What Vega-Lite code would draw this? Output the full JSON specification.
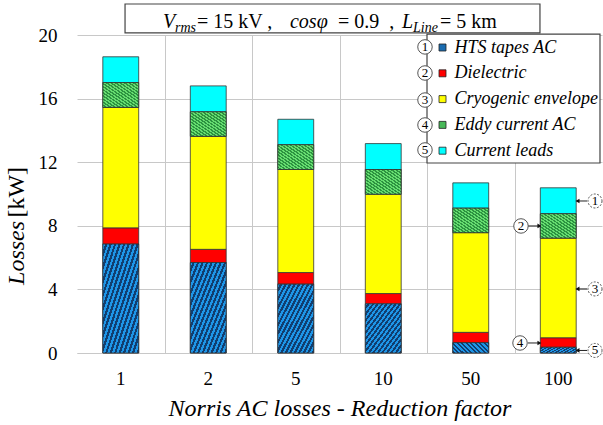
{
  "$schema": "https://vega.github.io/schema/vega-lite/v6.json",
  "width": 525,
  "height": 318,
  "autosize": "none",
  "padding": {"left": 77, "top": 35, "right": 1, "bottom": 72},
  "config": {"view": {"stroke": null}, "font": "Liberation Serif", "background": "white"},
  "datasets": {
    "losses": [
      {"factor": "1", "component": "HTS tapes AC", "loss": 6.85},
      {"factor": "1", "component": "Dielectric", "loss": 1.02},
      {"factor": "1", "component": "Cryogenic envelope", "loss": 7.58},
      {"factor": "1", "component": "Eddy current AC", "loss": 1.56},
      {"factor": "1", "component": "Current leads", "loss": 1.62},
      {"factor": "2", "component": "HTS tapes AC", "loss": 5.69},
      {"factor": "2", "component": "Dielectric", "loss": 0.83},
      {"factor": "2", "component": "Cryogenic envelope", "loss": 7.11},
      {"factor": "2", "component": "Eddy current AC", "loss": 1.54},
      {"factor": "2", "component": "Current leads", "loss": 1.63},
      {"factor": "5", "component": "HTS tapes AC", "loss": 4.33},
      {"factor": "5", "component": "Dielectric", "loss": 0.73},
      {"factor": "5", "component": "Cryogenic envelope", "loss": 6.48},
      {"factor": "5", "component": "Eddy current AC", "loss": 1.56},
      {"factor": "5", "component": "Current leads", "loss": 1.6},
      {"factor": "10", "component": "HTS tapes AC", "loss": 3.09},
      {"factor": "10", "component": "Dielectric", "loss": 0.65},
      {"factor": "10", "component": "Cryogenic envelope", "loss": 6.25},
      {"factor": "10", "component": "Eddy current AC", "loss": 1.55},
      {"factor": "10", "component": "Current leads", "loss": 1.63},
      {"factor": "50", "component": "HTS tapes AC", "loss": 0.65},
      {"factor": "50", "component": "Dielectric", "loss": 0.65},
      {"factor": "50", "component": "Cryogenic envelope", "loss": 6.27},
      {"factor": "50", "component": "Eddy current AC", "loss": 1.54},
      {"factor": "50", "component": "Current leads", "loss": 1.59},
      {"factor": "100", "component": "HTS tapes AC", "loss": 0.36},
      {"factor": "100", "component": "Dielectric", "loss": 0.6},
      {"factor": "100", "component": "Cryogenic envelope", "loss": 6.27},
      {"factor": "100", "component": "Eddy current AC", "loss": 1.53},
      {"factor": "100", "component": "Current leads", "loss": 1.63}
    ],
    "boxes": [
      {"u": 0.549, "u2": 5.291, "v": 21.95, "v2": 20.13},
      {"u": 4.0, "u2": 5.977, "v": 20.06, "v2": 11.95}
    ],
    "titleItalic": [
      {"u": 0.983, "v": 20.44, "t": "V"},
      {"u": 2.434, "v": 20.44, "t": "cosφ"},
      {"u": 3.714, "v": 20.44, "t": "L"}
    ],
    "titleNormal": [
      {"u": 1.371, "v": 20.44, "t": "= 15 kV ,"},
      {"u": 2.983, "v": 20.44, "t": "= 0.9\u00a0\u00a0,"},
      {"u": 4.149, "v": 20.44, "t": "= 5 km"}
    ],
    "titleSub": [
      {"u": 1.12, "v": 20.19, "t": "rms"},
      {"u": 3.84, "v": 20.19, "t": "Line"}
    ],
    "arrows": [
      {"u": 5.829, "u2": 5.72, "v": 9.56, "dir": "left"},
      {"u": 5.829, "u2": 5.72, "v": 4.03, "dir": "left"},
      {"u": 5.829, "u2": 5.72, "v": 0.16, "dir": "left"},
      {"u": 5.154, "u2": 5.285, "v": 7.99, "dir": "right"},
      {"u": 5.154, "u2": 5.285, "v": 0.63, "dir": "right"}
    ],
    "callouts": [
      {"u": 3.977, "v": 19.25, "n": "1", "side": "legend"},
      {"u": 3.977, "v": 17.61, "n": "2", "side": "legend"},
      {"u": 3.977, "v": 15.91, "n": "3", "side": "legend"},
      {"u": 3.977, "v": 14.34, "n": "4", "side": "legend"},
      {"u": 3.977, "v": 12.77, "n": "5", "side": "legend"},
      {"u": 5.92, "v": 9.56, "n": "1", "side": "right"},
      {"u": 5.074, "v": 7.99, "n": "2", "side": "left"},
      {"u": 5.92, "v": 4.03, "n": "3", "side": "right"},
      {"u": 5.063, "v": 0.63, "n": "4", "side": "left"},
      {"u": 5.92, "v": 0.16, "n": "5", "side": "right"}
    ]
  },
  "layer": [
    {
      "data": {"name": "losses"},
      "transform": [
        {"calculate": "indexof(['HTS tapes AC','Dielectric','Cryogenic envelope','Eddy current AC','Current leads'], datum.component)", "as": "rank"},
        {"stack": "loss", "groupby": ["factor"], "sort": [{"field": "rank", "order": "ascending"}], "as": ["y0", "y1"], "offset": "zero"}
      ],
      "encoding": {
        "x": {
          "field": "factor", "type": "nominal",
          "sort": ["1", "2", "5", "10", "50", "100"],
          "scale": {"paddingInner": 0, "paddingOuter": 0},
          "axis": {
            "grid": false, "domain": true, "domainColor": "#c8c8c8", "ticks": false,
            "labelPadding": 16, "labelFont": "Liberation Serif", "labelFontSize": 19,
            "labelColor": "black", "labelAngle": 0,
            "title": "Norris AC losses - Reduction factor",
            "titleFont": "Liberation Serif", "titleFontStyle": "italic", "titleFontWeight": "normal",
            "titleFontSize": 24, "titleColor": "black", "titlePadding": 8
          }
        },
        "y": {
          "field": "y0", "type": "quantitative",
          "scale": {"domain": [0, 20], "nice": false},
          "axis": {
            "values": [0, 4, 8, 12, 16, 20], "grid": true, "gridColor": "#c8c8c8",
            "domain": false, "ticks": false, "labelPadding": 20,
            "labelFont": "Liberation Serif", "labelFontSize": 19, "labelColor": "black",
            "title": null
          }
        },
        "y2": {"field": "y1"}
      },
      "layer": [
        {
          "mark": {"type": "bar", "width": {"band": 0.41}, "stroke": "#333333", "strokeWidth": 0.8},
          "encoding": {
            "color": {
              "field": "component", "type": "nominal",
              "sort": ["HTS tapes AC", "Dielectric", "Cryogenic envelope", "Eddy current AC", "Current leads"],
              "scale": {
                "domain": ["HTS tapes AC", "Dielectric", "Cryogenic envelope", "Eddy current AC", "Current leads"],
                "range": ["#1a6cb0", "#ff0000", "#ffff00", "#48b858", "#00ffff"]
              },
              "legend": {
                "orient": "none", "legendX": 350, "legendY": -2.5, "title": null,
                "symbolType": "square", "symbolSize": 49, "symbolStrokeColor": "#222222", "symbolStrokeWidth": 0.8,
                "labelFont": "Liberation Serif", "labelFontStyle": "italic", "labelFontSize": 18,
                "labelColor": "black", "labelLimit": 300,
                "padding": 6, "rowPadding": 7.8, "symbolOffset": 0.5, "labelOffset": 3
              }
            }
          }
        },
        {
          "transform": [{"filter": "datum.component == 'HTS tapes AC'"}],
          "mark": {
            "type": "bar", "width": {"band": 0.41}, "stroke": "#333333", "strokeWidth": 0.8,
            "fill": {"gradient": "linear", "x1": 0, "y1": 0, "x2": 1, "y2": 1, "stops": [
              {"offset": 0, "color": "#1e96e8"}, {"offset": 0.03125, "color": "#1e96e8"}, {"offset": 0.03125, "color": "#113e70"}, {"offset": 0.0625, "color": "#113e70"},
              {"offset": 0.0625, "color": "#1e96e8"}, {"offset": 0.09375, "color": "#1e96e8"}, {"offset": 0.09375, "color": "#113e70"}, {"offset": 0.125, "color": "#113e70"},
              {"offset": 0.125, "color": "#1e96e8"}, {"offset": 0.15625, "color": "#1e96e8"}, {"offset": 0.15625, "color": "#113e70"}, {"offset": 0.1875, "color": "#113e70"},
              {"offset": 0.1875, "color": "#1e96e8"}, {"offset": 0.21875, "color": "#1e96e8"}, {"offset": 0.21875, "color": "#113e70"}, {"offset": 0.25, "color": "#113e70"},
              {"offset": 0.25, "color": "#1e96e8"}, {"offset": 0.28125, "color": "#1e96e8"}, {"offset": 0.28125, "color": "#113e70"}, {"offset": 0.3125, "color": "#113e70"},
              {"offset": 0.3125, "color": "#1e96e8"}, {"offset": 0.34375, "color": "#1e96e8"}, {"offset": 0.34375, "color": "#113e70"}, {"offset": 0.375, "color": "#113e70"},
              {"offset": 0.375, "color": "#1e96e8"}, {"offset": 0.40625, "color": "#1e96e8"}, {"offset": 0.40625, "color": "#113e70"}, {"offset": 0.4375, "color": "#113e70"},
              {"offset": 0.4375, "color": "#1e96e8"}, {"offset": 0.46875, "color": "#1e96e8"}, {"offset": 0.46875, "color": "#113e70"}, {"offset": 0.5, "color": "#113e70"},
              {"offset": 0.5, "color": "#1e96e8"}, {"offset": 0.53125, "color": "#1e96e8"}, {"offset": 0.53125, "color": "#113e70"}, {"offset": 0.5625, "color": "#113e70"},
              {"offset": 0.5625, "color": "#1e96e8"}, {"offset": 0.59375, "color": "#1e96e8"}, {"offset": 0.59375, "color": "#113e70"}, {"offset": 0.625, "color": "#113e70"},
              {"offset": 0.625, "color": "#1e96e8"}, {"offset": 0.65625, "color": "#1e96e8"}, {"offset": 0.65625, "color": "#113e70"}, {"offset": 0.6875, "color": "#113e70"},
              {"offset": 0.6875, "color": "#1e96e8"}, {"offset": 0.71875, "color": "#1e96e8"}, {"offset": 0.71875, "color": "#113e70"}, {"offset": 0.75, "color": "#113e70"},
              {"offset": 0.75, "color": "#1e96e8"}, {"offset": 0.78125, "color": "#1e96e8"}, {"offset": 0.78125, "color": "#113e70"}, {"offset": 0.8125, "color": "#113e70"},
              {"offset": 0.8125, "color": "#1e96e8"}, {"offset": 0.84375, "color": "#1e96e8"}, {"offset": 0.84375, "color": "#113e70"}, {"offset": 0.875, "color": "#113e70"},
              {"offset": 0.875, "color": "#1e96e8"}, {"offset": 0.90625, "color": "#1e96e8"}, {"offset": 0.90625, "color": "#113e70"}, {"offset": 0.9375, "color": "#113e70"},
              {"offset": 0.9375, "color": "#1e96e8"}, {"offset": 0.96875, "color": "#1e96e8"}, {"offset": 0.96875, "color": "#113e70"}, {"offset": 1, "color": "#113e70"}
            ]}
          }
        },
        {
          "transform": [{"filter": "datum.component == 'Eddy current AC'"}],
          "mark": {
            "type": "bar", "width": {"band": 0.41}, "stroke": "#333333", "strokeWidth": 0.8,
            "fill": {"gradient": "linear", "x1": 0, "y1": 1, "x2": 1, "y2": 0, "stops": [
              {"offset": 0, "color": "#66dd70"}, {"offset": 0.03125, "color": "#66dd70"}, {"offset": 0.03125, "color": "#2c9240"}, {"offset": 0.0625, "color": "#2c9240"},
              {"offset": 0.0625, "color": "#66dd70"}, {"offset": 0.09375, "color": "#66dd70"}, {"offset": 0.09375, "color": "#2c9240"}, {"offset": 0.125, "color": "#2c9240"},
              {"offset": 0.125, "color": "#66dd70"}, {"offset": 0.15625, "color": "#66dd70"}, {"offset": 0.15625, "color": "#2c9240"}, {"offset": 0.1875, "color": "#2c9240"},
              {"offset": 0.1875, "color": "#66dd70"}, {"offset": 0.21875, "color": "#66dd70"}, {"offset": 0.21875, "color": "#2c9240"}, {"offset": 0.25, "color": "#2c9240"},
              {"offset": 0.25, "color": "#66dd70"}, {"offset": 0.28125, "color": "#66dd70"}, {"offset": 0.28125, "color": "#2c9240"}, {"offset": 0.3125, "color": "#2c9240"},
              {"offset": 0.3125, "color": "#66dd70"}, {"offset": 0.34375, "color": "#66dd70"}, {"offset": 0.34375, "color": "#2c9240"}, {"offset": 0.375, "color": "#2c9240"},
              {"offset": 0.375, "color": "#66dd70"}, {"offset": 0.40625, "color": "#66dd70"}, {"offset": 0.40625, "color": "#2c9240"}, {"offset": 0.4375, "color": "#2c9240"},
              {"offset": 0.4375, "color": "#66dd70"}, {"offset": 0.46875, "color": "#66dd70"}, {"offset": 0.46875, "color": "#2c9240"}, {"offset": 0.5, "color": "#2c9240"},
              {"offset": 0.5, "color": "#66dd70"}, {"offset": 0.53125, "color": "#66dd70"}, {"offset": 0.53125, "color": "#2c9240"}, {"offset": 0.5625, "color": "#2c9240"},
              {"offset": 0.5625, "color": "#66dd70"}, {"offset": 0.59375, "color": "#66dd70"}, {"offset": 0.59375, "color": "#2c9240"}, {"offset": 0.625, "color": "#2c9240"},
              {"offset": 0.625, "color": "#66dd70"}, {"offset": 0.65625, "color": "#66dd70"}, {"offset": 0.65625, "color": "#2c9240"}, {"offset": 0.6875, "color": "#2c9240"},
              {"offset": 0.6875, "color": "#66dd70"}, {"offset": 0.71875, "color": "#66dd70"}, {"offset": 0.71875, "color": "#2c9240"}, {"offset": 0.75, "color": "#2c9240"},
              {"offset": 0.75, "color": "#66dd70"}, {"offset": 0.78125, "color": "#66dd70"}, {"offset": 0.78125, "color": "#2c9240"}, {"offset": 0.8125, "color": "#2c9240"},
              {"offset": 0.8125, "color": "#66dd70"}, {"offset": 0.84375, "color": "#66dd70"}, {"offset": 0.84375, "color": "#2c9240"}, {"offset": 0.875, "color": "#2c9240"},
              {"offset": 0.875, "color": "#66dd70"}, {"offset": 0.90625, "color": "#66dd70"}, {"offset": 0.90625, "color": "#2c9240"}, {"offset": 0.9375, "color": "#2c9240"},
              {"offset": 0.9375, "color": "#66dd70"}, {"offset": 0.96875, "color": "#66dd70"}, {"offset": 0.96875, "color": "#2c9240"}, {"offset": 1, "color": "#2c9240"}
            ]}
          }
        }
      ]
    },
    {
      "layer": [
        {
          "data": {"name": "boxes"},
          "mark": {"type": "rect", "fill": "white", "stroke": "#444444", "strokeWidth": 1.2},
          "encoding": {
            "x": {
              "field": "u", "type": "quantitative",
              "scale": {"domain": [0, 6], "nice": false, "zero": false},
              "axis": {
                "values": [1, 2, 3, 4, 5], "grid": true, "gridColor": "#c8c8c8",
                "labels": false, "ticks": false, "domain": false, "title": null
              }
            },
            "x2": {"field": "u2"},
            "y": {"field": "v", "type": "quantitative", "scale": {"domain": [0, 20], "nice": false}},
            "y2": {"field": "v2"}
          }
        },
        {
          "data": {"name": "titleItalic"},
          "mark": {"type": "text", "align": "left", "baseline": "alphabetic", "font": "Liberation Serif", "fontStyle": "italic", "fontSize": 20, "color": "black"},
          "encoding": {
            "x": {"field": "u", "type": "quantitative"},
            "y": {"field": "v", "type": "quantitative"},
            "text": {"field": "t"}
          }
        },
        {
          "data": {"name": "titleNormal"},
          "mark": {"type": "text", "align": "left", "baseline": "alphabetic", "font": "Liberation Serif", "fontSize": 20, "color": "black"},
          "encoding": {
            "x": {"field": "u", "type": "quantitative"},
            "y": {"field": "v", "type": "quantitative"},
            "text": {"field": "t"}
          }
        },
        {
          "data": {"name": "titleSub"},
          "mark": {"type": "text", "align": "left", "baseline": "alphabetic", "font": "Liberation Serif", "fontStyle": "italic", "fontSize": 14, "color": "black"},
          "encoding": {
            "x": {"field": "u", "type": "quantitative"},
            "y": {"field": "v", "type": "quantitative"},
            "text": {"field": "t"}
          }
        },
        {
          "data": {"values": [{"u": -0.686, "v": 4.28, "t": "Losses"}]},
          "mark": {"type": "text", "align": "left", "baseline": "middle", "angle": 270, "font": "Liberation Serif", "fontStyle": "italic", "fontSize": 24, "color": "black"},
          "encoding": {
            "x": {"field": "u", "type": "quantitative"},
            "y": {"field": "v", "type": "quantitative"},
            "text": {"field": "t"}
          }
        },
        {
          "data": {"values": [{"u": -0.686, "v": 11.7, "t": "[kW]"}]},
          "mark": {"type": "text", "align": "right", "baseline": "middle", "angle": 270, "font": "Liberation Serif", "fontSize": 24, "color": "black"},
          "encoding": {
            "x": {"field": "u", "type": "quantitative"},
            "y": {"field": "v", "type": "quantitative"},
            "text": {"field": "t"}
          }
        },
        {
          "data": {"name": "arrows"},
          "mark": {"type": "rule", "color": "#222222", "strokeWidth": 1},
          "encoding": {
            "x": {"field": "u", "type": "quantitative"},
            "x2": {"field": "u2"},
            "y": {"field": "v", "type": "quantitative"}
          }
        },
        {
          "data": {"name": "arrows"},
          "transform": [{"filter": "datum.dir == 'left'"}],
          "mark": {"type": "point", "shape": "triangle-left", "filled": true, "color": "#111111", "size": 22, "opacity": 1},
          "encoding": {
            "x": {"field": "u2", "type": "quantitative"},
            "y": {"field": "v", "type": "quantitative"}
          }
        },
        {
          "data": {"name": "arrows"},
          "transform": [{"filter": "datum.dir == 'right'"}],
          "mark": {"type": "point", "shape": "triangle-right", "filled": true, "color": "#111111", "size": 22, "opacity": 1},
          "encoding": {
            "x": {"field": "u2", "type": "quantitative"},
            "y": {"field": "v", "type": "quantitative"}
          }
        },
        {
          "data": {"name": "callouts"},
          "transform": [{"filter": "datum.side != 'right'"}],
          "mark": {"type": "point", "shape": "circle", "filled": false, "fill": "white", "fillOpacity": 1, "stroke": "#555555", "strokeWidth": 1, "size": 210, "opacity": 1},
          "encoding": {
            "x": {"field": "u", "type": "quantitative"},
            "y": {"field": "v", "type": "quantitative"}
          }
        },
        {
          "data": {"name": "callouts"},
          "transform": [{"filter": "datum.side == 'right'"}],
          "mark": {"type": "point", "shape": "circle", "filled": false, "fill": "white", "fillOpacity": 1, "stroke": "#555555", "strokeWidth": 1, "strokeDash": [2, 1.5], "size": 196, "opacity": 1},
          "encoding": {
            "x": {"field": "u", "type": "quantitative"},
            "y": {"field": "v", "type": "quantitative"}
          }
        },
        {
          "data": {"name": "callouts"},
          "mark": {"type": "text", "align": "center", "baseline": "middle", "font": "Liberation Serif", "fontSize": 13, "color": "black"},
          "encoding": {
            "x": {"field": "u", "type": "quantitative"},
            "y": {"field": "v", "type": "quantitative"},
            "text": {"field": "n"}
          }
        }
      ]
    }
  ],
  "resolve": {"scale": {"x": "independent"}, "axis": {"x": "independent"}}
}
